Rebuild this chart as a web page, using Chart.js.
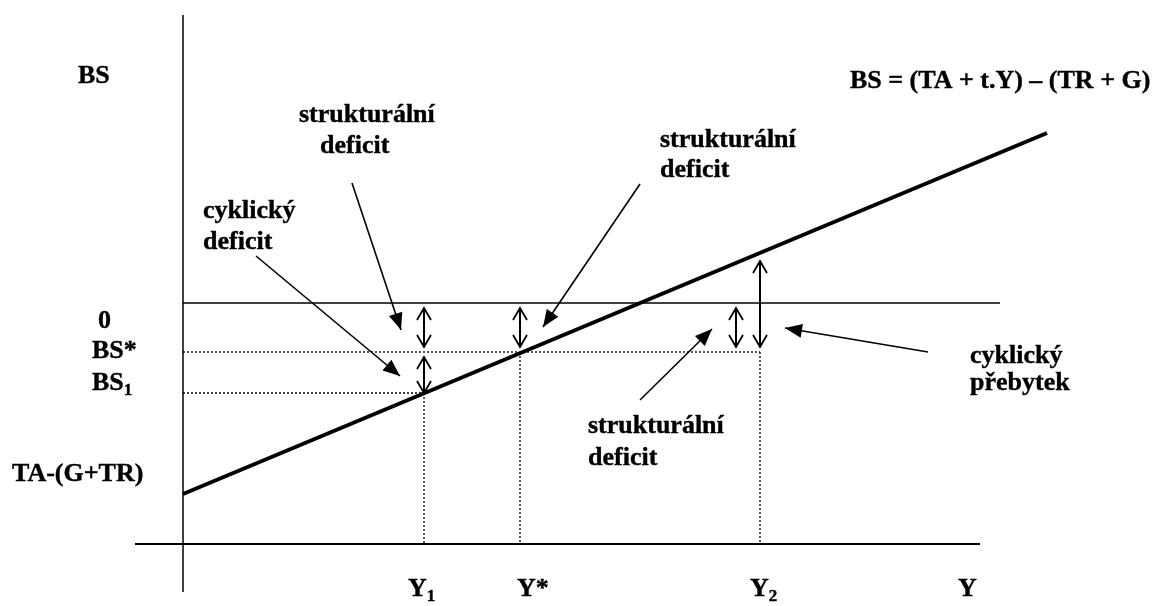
<!DOCTYPE html>
<html>
<head>
<meta charset="utf-8">
<script src="https://cdn.jsdelivr.net/npm/chart.js@4.4.1/dist/chart.umd.min.js"></script>
<style>
  html, body { margin: 0; padding: 0; background: #fff; }
  #wrap { width: 1162px; height: 606px; }
</style>
</head>
<body>
<div id="wrap"><canvas id="bsChart" width="1162" height="606"></canvas></div>
<script>
// income levels Y1, Y*, Y2 and the budget balance reached at each
const incomeLabels = ['Y1', 'Y*', 'Y2'];
const incomeValues = [24.1, 33.7, 57.7];
const balanceValues = [-9.0, -4.9, 5.0];

// BS = (TA + t.Y) - (TR + G), from the intercept TA-(G+TR) to the right end
const bsLineX = [0, 86.4];
const bsLineY = [-19.1, 17.0];

// axes
const hAxisX = [-4.8, 79.7];
const hAxisY = -24.1;
const vAxisY = [28.8, -28.9];
const zeroLineX = [0, 81.7];

// double headed gap arrows: [x, from, to]
const gapArrows = [
  [24.1, -0.5, -4.4],
  [24.1, -5.4, -9.0],
  [33.7, -0.5, -4.4],
  [55.3, -0.5, -4.4],
  [57.7, 4.2, -4.4]
];

// callout pointers: [fromX, fromY, tipX, tipY]
const pointers = [
  [16.9, 12.0, 21.8, -2.7],
  [7.3, 4.7, 21.7, -7.3],
  [45.7, 11.9, 36.0, -2.4],
  [45.7, -9.7, 52.9, -2.6],
  [74.5, -4.9, 60.2, -2.5]
];

// text labels: [text, subscript, x, y] (left edge, baseline)
const notes = [
  ['BS', '', -10.5, 22.0],
  ['0', '', -8.5, -2.5],
  ['BS*', '', -9.1, -5.5],
  ['BS', '1', -9.1, -8.7],
  ['TA-(G+TR)', '', -17.1, -17.8],
  ['strukturální', '', 11.6, 18.1],
  ['deficit', '', 13.7, 15.0],
  ['cyklický', '', 2.0, 8.5],
  ['deficit', '', 2.0, 5.4],
  ['strukturální', '', 47.7, 15.6],
  ['deficit', '', 47.7, 12.6],
  ['BS = (TA + t.Y) – (TR + G)', '', 66.7, 21.5],
  ['strukturální', '', 40.5, -13.0],
  ['deficit', '', 40.5, -16.2],
  ['cyklický', '', 78.7, -6.0],
  ['přebytek', '', 78.7, -8.7],
  ['Y', '1', 22.5, -29.3],
  ['Y*', '', 33.4, -29.3],
  ['Y', '2', 56.7, -29.3],
  ['Y', '', 77.5, -29.3]
];

const FONT = '"Liberation Serif", "Times New Roman", serif';

function seg(x0, y0, x1, y1) {
  return [{ x: x0, y: y0 }, { x: x1, y: y1 }];
}

const datasets = [];
// solid axes
datasets.push({ data: seg(0, vAxisY[0], 0, vAxisY[1]), borderWidth: 1.5 });
datasets.push({ data: seg(hAxisX[0], hAxisY, hAxisX[1], hAxisY), borderWidth: 2 });
datasets.push({ data: seg(zeroLineX[0], 0, zeroLineX[1], 0), borderWidth: 1.5 });
// dotted guides
datasets.push({ data: seg(0, balanceValues[1], incomeValues[2], balanceValues[1]), borderWidth: 1.3, borderDash: [2, 2] });
datasets.push({ data: seg(0, balanceValues[0], incomeValues[0], balanceValues[0]), borderWidth: 1.3, borderDash: [2, 2] });
incomeValues.forEach((v, i) => {
  const top = i === 2 ? balanceValues[1] : balanceValues[i];
  datasets.push({ data: seg(v, top, v, hAxisY), borderWidth: 1.3, borderDash: [2, 2] });
});
// the BS line
datasets.push({ data: seg(bsLineX[0], bsLineY[0], bsLineX[1], bsLineY[1]), borderWidth: 4 });
// arrows
gapArrows.forEach(a => {
  datasets.push({ data: seg(a[0], a[1], a[0], a[2]), borderWidth: 2, head: 'open' });
});
pointers.forEach(p => {
  datasets.push({ data: seg(p[0], p[1], p[2], p[3]), borderWidth: 1.6, head: 'filled' });
});

datasets.forEach(d => {
  d.borderColor = '#000';
  d.showLine = true;
  d.pointRadius = 0;
  d.fill = false;
  d.borderCapStyle = 'butt';
});

function openHead(ctx, tip, ang) {
  const len = 12, half = 7;
  ctx.beginPath();
  ctx.moveTo(tip.x - len * Math.cos(ang) - half * Math.sin(ang), tip.y - len * Math.sin(ang) + half * Math.cos(ang));
  ctx.lineTo(tip.x, tip.y);
  ctx.lineTo(tip.x - len * Math.cos(ang) + half * Math.sin(ang), tip.y - len * Math.sin(ang) - half * Math.cos(ang));
  ctx.stroke();
}

function filledHead(ctx, tip, ang) {
  const len = 17, half = 7;
  ctx.beginPath();
  ctx.moveTo(tip.x, tip.y);
  ctx.lineTo(tip.x - len * Math.cos(ang) - half * Math.sin(ang), tip.y - len * Math.sin(ang) + half * Math.cos(ang));
  ctx.lineTo(tip.x - len * Math.cos(ang) + half * Math.sin(ang), tip.y - len * Math.sin(ang) - half * Math.cos(ang));
  ctx.closePath();
  ctx.fill();
}

const decorations = {
  id: 'decorations',
  afterDatasetsDraw(chart) {
    const ctx = chart.ctx;
    const xs = chart.scales.x, ys = chart.scales.y;
    ctx.save();
    ctx.strokeStyle = '#000';
    ctx.fillStyle = '#000';
    ctx.lineWidth = 1.8;
    chart.data.datasets.forEach((ds, i) => {
      if (!ds.head) return;
      const pts = chart.getDatasetMeta(i).data;
      const a = pts[0], b = pts[1];
      const ang = Math.atan2(b.y - a.y, b.x - a.x);
      if (ds.head === 'open') {
        openHead(ctx, b, ang);
        openHead(ctx, a, ang + Math.PI);
      } else {
        filledHead(ctx, b, ang);
      }
    });

    // labels, with a thin outline so they come out as heavy as the original
    ctx.textBaseline = 'alphabetic';
    ctx.textAlign = 'left';
    ctx.lineWidth = 0.4;
    notes.forEach(n => {
      const px = xs.getPixelForValue(n[2]);
      const py = ys.getPixelForValue(n[3]);
      ctx.font = 'bold 26px ' + FONT;
      ctx.fillText(n[0], px, py);
      ctx.strokeText(n[0], px, py);
      if (n[1]) {
        const w = ctx.measureText(n[0]).width;
        ctx.font = 'bold 17px ' + FONT;
        ctx.fillText(n[1], px + w, py + 5);
        ctx.strokeText(n[1], px + w, py + 5);
      }
    });
    ctx.restore();
  }
};

new Chart(document.getElementById('bsChart').getContext('2d'), {
  type: 'scatter',
  data: { datasets: datasets },
  options: {
    responsive: false,
    animation: false,
    events: [],
    layout: { padding: 0 },
    plugins: { legend: { display: false }, tooltip: { enabled: false } },
    scales: {
      x: { type: 'linear', display: false, min: -18.3, max: 97.9 },
      y: { type: 'linear', display: false, min: -30.3, max: 30.3 }
    }
  },
  plugins: [decorations]
});
</script>
</body>
</html>
